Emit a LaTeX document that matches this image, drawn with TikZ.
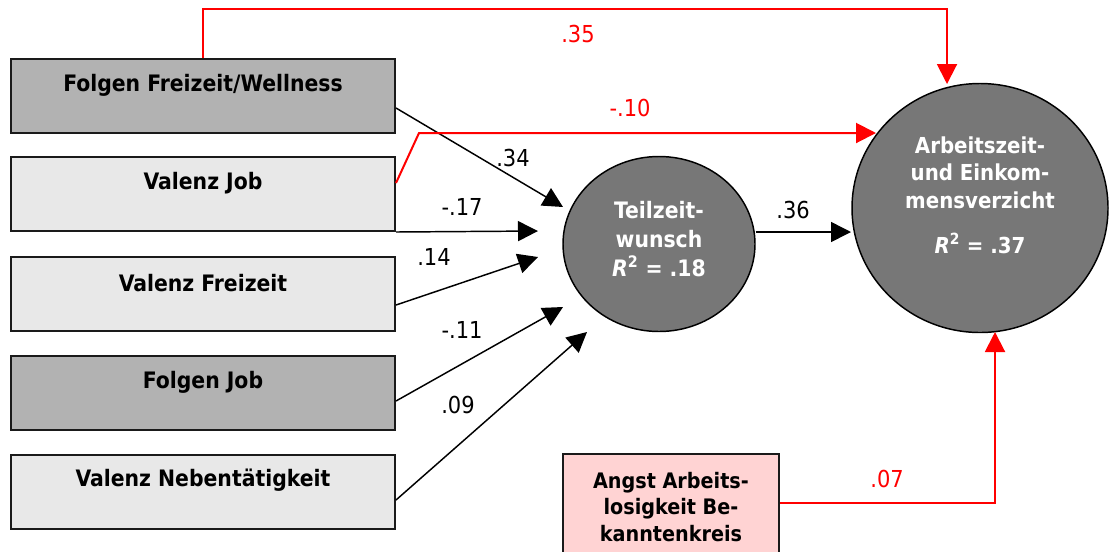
\documentclass[tikz,border=0pt]{standalone}
\usepackage{fontspec}
\setmainfont{DejaVu Sans Condensed}
\usetikzlibrary{arrows.meta,shapes.geometric,calc}
\definecolor{darkfill}{RGB}{178,178,178}
\definecolor{lightfill}{RGB}{232,232,232}
\definecolor{latentfill}{RGB}{119,119,119}
\definecolor{pinkfill}{RGB}{255,211,211}
\definecolor{boxline}{RGB}{26,26,26}
\definecolor{pathred}{RGB}{255,0,0}

\begin{document}
\begin{tikzpicture}[x=0.75pt,y=-0.75pt,
  every node/.style={inner sep=0pt},
  box/.style={draw=boxline,line width=1.5pt,minimum width=288pt,minimum height=55.5pt},
  darkbox/.style={box,fill=darkfill},
  lightbox/.style={box,fill=lightfill},
  boxtext/.style={font=\fontsize{17}{20}\selectfont\bfseries},
  latent/.style={ellipse,draw=black,line width=1.1pt,fill=latentfill},
  latenttext/.style={font=\fontsize{17}{21.5}\selectfont\bfseries,text=white,align=center},
  coef/.style={font=\fontsize{17.5}{20}\selectfont},
  redcoef/.style={coef,text=pathred},
  tip/.style={-{Triangle[length=15pt,width=15pt]}},
  arrowline/.style={draw=black,line width=1.1pt,tip},
  redline/.style={draw=pathred,line width=1.5pt,tip},
]
\useasboundingbox (0,0) rectangle (1109,551);
\clip (0,0) rectangle (1109,551);

% observed predictors
\node[darkbox]  (b1) at (203,96)    {};
\node[lightbox] (b2) at (203,194)   {};
\node[lightbox] (b3) at (203,294)   {};
\node[darkbox]  (b4) at (203,393)   {};
\node[lightbox] (b5) at (203,491.5) {};
\node[boxtext] (t1) at (203,85)  {Folgen Freizeit/Wellness};
\node[boxtext] (t2) at (203,183) {Valenz Job};
\node[boxtext] (t3) at (203,283) {Valenz Freizeit};
\node[boxtext] (t4) at (203,382) {Folgen Job};
\node[boxtext] (t5) at (203,480) {Valenz Nebentätigkeit};

\node[draw=boxline,line width=1.5pt,fill=pinkfill,minimum width=162pt,minimum height=79.5pt,
      align=center,font=\fontsize{16}{20}\selectfont\bfseries] (angst) at (671,507)
      {Angst Arbeits-\\losigkeit Be-\\kanntenkreis};

% latent variables
\node[latent,minimum width=144pt,minimum height=131.25pt] (te) at (659,244) {};
\node[latenttext] (tet) at (659,239) {Teilzeit-\\wunsch\\\textit{R}\textsuperscript{2} = .18};
\node[latent,minimum width=192pt,minimum height=186.75pt] (az) at (980,208) {};
\node[latenttext,font=\fontsize{16.5}{20.6}\selectfont\bfseries] (azt) at (980,195)
  {Arbeitszeit-\\und Einkom-\\mensverzicht\\[13pt]\textit{R}\textsuperscript{2} = .37};

% arrow end points
\coordinate (e34) at (563,207);
\coordinate (e17) at (538,231);
\coordinate (e14) at (538,257);
\coordinate (e11) at (563,307);
\coordinate (e09) at (587,332);
\coordinate (e36) at (851,232);
\coordinate (a35) at (947,84);
\coordinate (k10) at (419,133);
\coordinate (a10) at (876,133);
\coordinate (a07) at (995,332);

% paths to Teilzeitwunsch
\draw[arrowline] ($(b1.east)+(0,12)$) -- (e34);
\draw[arrowline] (b2.south east) -- (e17);
\draw[arrowline] ($(b3.east)+(0,11)$) -- (e14);
\draw[arrowline] ($(b4.east)+(0,8)$) -- (e11);
\draw[arrowline] ($(b5.east)+(0,8.5)$) -- (e09);
\draw[arrowline] ($(te.east)+(0,-12)$) -- (e36);

% direct paths to Arbeitszeit- und Einkommensverzicht
\draw[redline] (b1.north) -- ++(0,-49) -| (a35);
\draw[redline] ($(b2.east)+(0,-11)$) -- (k10) -- (a10);
\draw[redline] ($(angst.east)+(0,-4)$) -| (a07);

% coefficients
\node[coef] (c34) at (513,158) {.34};
\node[coef] (c17) at (462,207) {-.17};
\node[coef] (c14) at (434,257) {.14};
\node[coef] (c11) at (462,330) {-.11};
\node[coef] (c09) at (458,405) {.09};
\node[coef] (c36) at (793,210) {.36};
\node[redcoef] (c35) at (578,34)  {.35};
\node[redcoef] (c10) at (630,108) {-.10};
\node[redcoef] (c07) at (887,479) {.07};
\end{tikzpicture}
\end{document}
